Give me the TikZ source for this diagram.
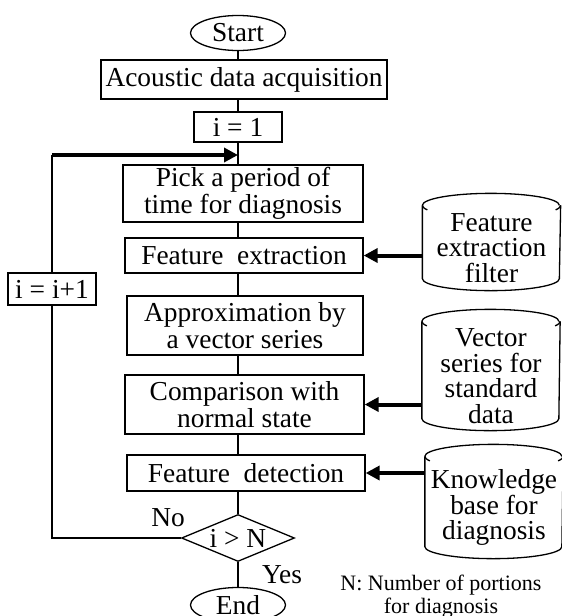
\documentclass[tikz,border=0pt]{standalone}
\usepackage{fontspec}
\setmainfont{Liberation Serif}
\usetikzlibrary{shapes.geometric,arrows.meta}
\newcommand{\drawthick}{\draw[line width=2pt,-{Triangle[length=7pt,width=7pt]}]}
\newcommand{\drawcan}[1]{
    \draw (#1.north west) arc [start angle=180, end angle=0, x radius=34.25pt, y radius=6pt];
    \draw (#1.north west) arc [start angle=180, end angle=202, x radius=34.25pt, y radius=6pt];
    \draw (#1.north east) arc [start angle=0, end angle=-22, x radius=34.25pt, y radius=6pt];
    \draw (#1.north west) -- ([yshift=6pt]#1.south west)
      arc [start angle=180, end angle=360, x radius=34.25pt, y radius=6pt]
      -- (#1.north east);
}
\tikzset{
  stepbox/.style 2 args={draw, inner sep=0pt, align=center, minimum width=#1, minimum height=#2},
  terminal/.style={draw, ellipse, inner sep=0pt, minimum width=47.5pt, minimum height=17.5pt},
  decision/.style={draw, diamond, aspect=2.4, inner sep=0pt, minimum width=56.5pt, minimum height=23.5pt},
  can/.style={inner sep=0pt, align=center, minimum width=68.5pt, minimum height=#1,
    font=\fontsize{13.7}{12.8}\selectfont},
}

\begin{document}
\begin{tikzpicture}[x=0.5pt, y=-0.5pt, line width=0.65pt, font=\fontsize{13.7}{13.4}\selectfont]
\useasboundingbox (0,0) rectangle (562,616);
% main flow
\node[terminal] (start) at (238,33) {Start};
\node[stepbox={143pt}{19.5pt}] (acq) at (244,79.5) {Acoustic data acquisition};
\node[stepbox={44pt}{15pt}] (init) at (238,127) {i = 1};
\coordinate (loop) at (238,155);
\node[stepbox={120pt}{28.5pt}] (pick) at (243,193.5) {Pick a period of\\ time for diagnosis};
\node[stepbox={119pt}{17.5pt}] (fext) at (244,255.5) {Feature\ \ extraction};
\node[stepbox={118pt}{29.5pt}] (approx) at (245,325.5) {Approximation by\\ a vector series};
\node[stepbox={119.5pt}{29.5pt}] (comp) at (244.5,404.5) {Comparison with\\ normal state};
\node[stepbox={119pt}{18pt}] (fdet) at (246,473) {Feature\ \ detection};
\node[decision] (test) at (238,538) {i > N};
\node[terminal] (stop) at (238,605) {End};
\node[stepbox={44pt}{16pt}] (inc) at (52,289) {i = i+1};
% data stores
\node[can=42pt] (filt) at (491.5,248) {Feature\\ extraction\\ filter};
\node[can=54pt] (vec) at (491,376) {Vector\\ series for\\ standard\\ data};
\node[can=50.5pt] (know) at (494,507.5) {Knowledge\\ base for\\ diagnosis};
\drawcan{filt}\drawcan{vec}\drawcan{know}
% connectors
\draw (start.south) -- (start.south |- acq.north);
\draw (init.north |- acq.south) -- (init.north);
\draw (init.south) -- (init.south |- pick.north);
\draw (test.north |- pick.south) -- (test.north |- fext.north);
\draw (test.north |- fext.south) -- (test.north |- approx.north);
\draw (test.north |- approx.south) -- (test.north |- comp.north);
\draw (test.north |- comp.south) -- (test.north |- fdet.north);
\draw (test.north |- fdet.south) -- (test.north);
\draw (test.south) -- (stop.north);
\draw (test.west) -| (inc.south);
\draw (inc.north) -- (inc.north |- loop);
\drawthick (inc.north |- loop) -- (loop);
\drawthick (filt.west |- fext) -- (fext.east);
\drawthick (vec.west |- comp) -- (comp.east);
\drawthick (know.west |- fdet) -- (fdet.east);
% labels
\node (no) at (168,518) {No};
\node (yes) at (282,575) {Yes};
\node[font=\fontsize{11}{11.5}\selectfont, align=center] (note) at (441,597) {N: Number of portions\\ for diagnosis};
\end{tikzpicture}
\end{document}
